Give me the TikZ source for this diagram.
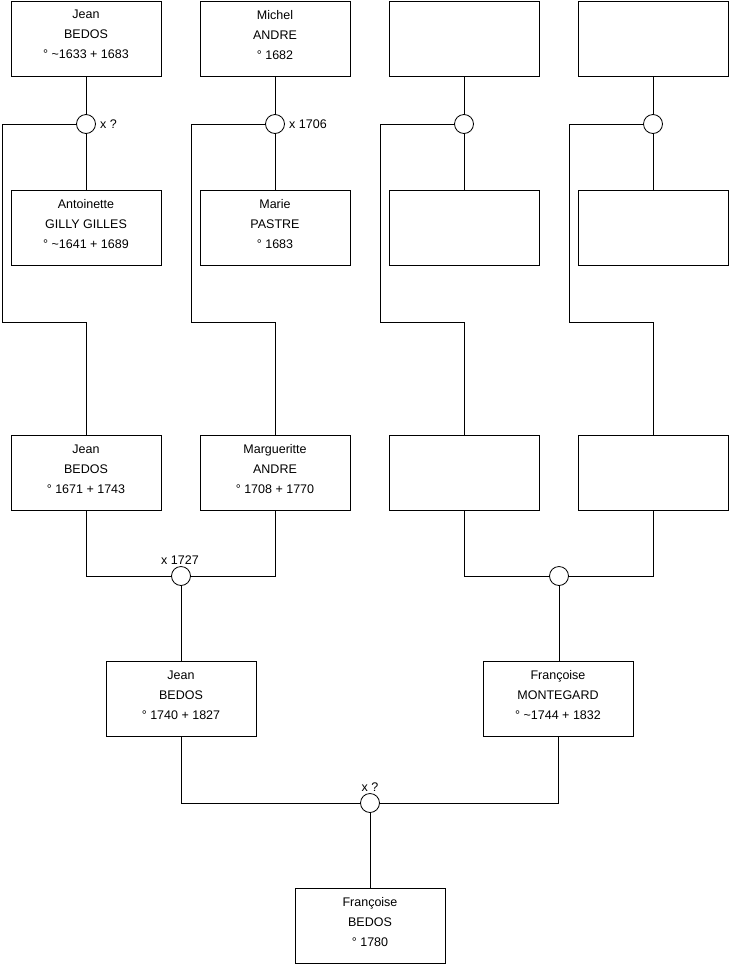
\documentclass[tikz,border=0pt]{standalone}
\usepackage{fontspec}
\setmainfont{Liberation Sans}
\begin{document}
\begin{tikzpicture}[x=1pt,y=-1pt,
  person/.style={draw, line width=0.8pt, minimum width=150pt, minimum height=75pt, inner sep=0pt, align=center, font=\fontsize{12.5}{20}\selectfont, text depth=8pt},
  union/.style={draw, circle, line width=0.8pt, minimum size=19pt, inner sep=0pt, fill=white},
  link/.style={line width=0.8pt},
  lbl/.style={font=\fontsize{12.5}{14}\selectfont, inner sep=0pt}]
\useasboundingbox (0,0) rectangle (740,975);
% row 1
\node[person] (a1) at (86,38.5) {Jean\\BEDOS\\° \textasciitilde1633 + 1683};
\node[person] (b1) at (275,38.5) {Michel\\ANDRE\\° 1682};
\node[person] (c1) at (464,38.5) {};
\node[person] (d1) at (653,38.5) {};
% unions row 1
\node[union] (ua) at (86,124) {};
\node[union] (ub) at (275,124) {};
\node[union] (uc) at (464,124) {};
\node[union] (ud) at (653,124) {};
\node[lbl, anchor=west] at (100,124) {x ?};
\node[lbl, anchor=west] at (289,124) {x 1706};
% row 2
\node[person] (a2) at (86,227.5) {Antoinette\\GILLY GILLES\\° \textasciitilde1641 + 1689};
\node[person] (b2) at (275,227.5) {Marie\\PASTRE\\° 1683};
\node[person] (c2) at (464,227.5) {};
\node[person] (d2) at (653,227.5) {};
% row 3
\node[person] (a3) at (86,473) {Jean\\BEDOS\\° 1671 + 1743};
\node[person] (b3) at (275,473) {Margueritte\\ANDRE\\° 1708 + 1770};
\node[person] (c3) at (464,473) {};
\node[person] (d3) at (653,473) {};
% unions row 3
\node[union] (uab) at (181,576) {};
\node[union] (ucd) at (559,576) {};
\node[lbl, anchor=south] at (180,565) {x 1727};
% row 4
\node[person] (a4) at (181,699) {Jean\\BEDOS\\° 1740 + 1827};
\node[person] (c4) at (558,699) {Françoise\\MONTEGARD\\° \textasciitilde1744 + 1832};
% union row 4
\node[union] (uf) at (370,803) {};
\node[lbl, anchor=south] at (370,792) {x ?};
% row 5
\node[person] (a5) at (370,926) {Françoise\\BEDOS\\° 1780};
% corner coordinates
\coordinate (ka1) at (2,124);   \coordinate (ka2) at (2,322);   \coordinate (ka3) at (86,322);
\coordinate (kb1) at (191,124); \coordinate (kb2) at (191,322); \coordinate (kb3) at (275,322);
\coordinate (kc1) at (380,124); \coordinate (kc2) at (380,322); \coordinate (kc3) at (464,322);
\coordinate (kd1) at (569,124); \coordinate (kd2) at (569,322); \coordinate (kd3) at (653,322);
% connectors
\foreach \p in {a,b,c,d}{
  \draw[link] (\p1.south) -- (u\p.north);
  \draw[link] (u\p.south) -- (\p2.north);
  \draw[link] (u\p.west) -- (k\p1) -- (k\p2) -- (k\p3) -- (\p3.north);
}
\draw[link] (a3.south) |- (uab.west);
\draw[link] (b3.south) |- (uab.east);
\draw[link] (c3.south) |- (ucd.west);
\draw[link] (d3.south) |- (ucd.east);
\draw[link] (uab.south) -- (a4.north);
\draw[link] (ucd.south) -- (ucd.south |- c4.north);
\draw[link] (a4.south) |- (uf.west);
\draw[link] (c4.south) |- (uf.east);
\draw[link] (uf.south) -- (a5.north);
\end{tikzpicture}
\end{document}
